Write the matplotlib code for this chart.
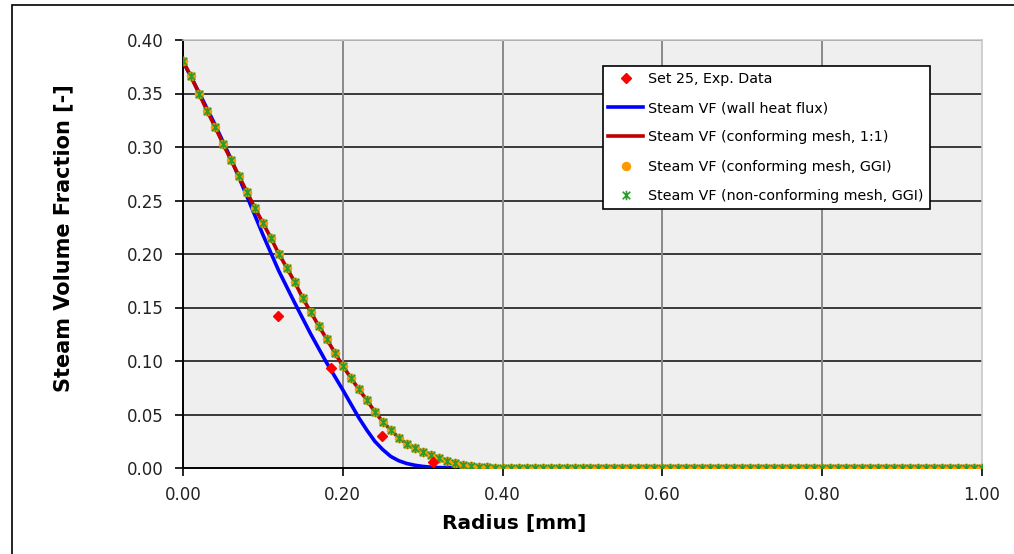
import matplotlib
matplotlib.use("Agg")
import matplotlib.pyplot as plt
from matplotlib.path import Path
from matplotlib.patches import Rectangle
import numpy as np

# ---------------- data ----------------
radius_exp = [0.119, 0.185, 0.2495, 0.313]
vf_exp = [0.142, 0.093, 0.030, 0.006]

radius_wall = [0.00, 0.02, 0.04, 0.06, 0.08, 0.10, 0.12, 0.14, 0.16, 0.18, 0.20,
               0.21, 0.22, 0.23, 0.24, 0.25, 0.26, 0.27, 0.28, 0.29, 0.30, 0.31,
               0.32, 0.34, 0.36, 0.40, 1.00]
vf_wall = [0.380, 0.351, 0.321, 0.289, 0.254, 0.218, 0.184, 0.154, 0.125, 0.098, 0.073,
           0.060, 0.047, 0.0355, 0.025, 0.0172, 0.0108, 0.0068, 0.0042, 0.0026, 0.0015, 0.0008,
           0.0004, 0.0001, 0.0, 0.0, 0.0]

radius_mesh = [0.00, 0.01, 0.02, 0.03, 0.04, 0.05, 0.06, 0.07, 0.08, 0.09,
               0.10, 0.11, 0.12, 0.13, 0.14, 0.15, 0.16, 0.17, 0.18, 0.19,
               0.20, 0.21, 0.22, 0.23, 0.24, 0.25, 0.26, 0.27, 0.28, 0.29,
               0.30, 0.31, 0.32, 0.33, 0.34, 0.35, 0.36, 0.37, 0.38, 0.39,
               0.40, 0.41, 0.42, 0.43, 0.44, 0.45, 0.46, 0.47, 0.48, 0.49,
               0.50, 0.51, 0.52, 0.53, 0.54, 0.55, 0.56, 0.57, 0.58, 0.59,
               0.60, 0.61, 0.62, 0.63, 0.64, 0.65, 0.66, 0.67, 0.68, 0.69,
               0.70, 0.71, 0.72, 0.73, 0.74, 0.75, 0.76, 0.77, 0.78, 0.79,
               0.80, 0.81, 0.82, 0.83, 0.84, 0.85, 0.86, 0.87, 0.88, 0.89,
               0.90, 0.91, 0.92, 0.93, 0.94, 0.95, 0.96, 0.97, 0.98, 0.99, 1.00]
vf_conf_11 = [0.380, 0.366, 0.350, 0.334, 0.319, 0.303, 0.288, 0.273, 0.258, 0.243,
              0.229, 0.215, 0.200, 0.187, 0.1735, 0.1586, 0.1455, 0.1327, 0.1203, 0.1078,
              0.0953, 0.0844, 0.0735, 0.0636, 0.0526, 0.0433, 0.0355, 0.0283, 0.0224, 0.0184,
              0.0152, 0.0120, 0.0090, 0.0065, 0.0044, 0.0028, 0.0019, 0.0012, 0.0007, 0.0004,
              0.0002, 0.0, 0.0, 0.0, 0.0, 0.0, 0.0, 0.0, 0.0, 0.0,
              0.0, 0.0, 0.0, 0.0, 0.0, 0.0, 0.0, 0.0, 0.0, 0.0,
              0.0, 0.0, 0.0, 0.0, 0.0, 0.0, 0.0, 0.0, 0.0, 0.0,
              0.0, 0.0, 0.0, 0.0, 0.0, 0.0, 0.0, 0.0, 0.0, 0.0,
              0.0, 0.0, 0.0, 0.0, 0.0, 0.0, 0.0, 0.0, 0.0, 0.0,
              0.0, 0.0, 0.0, 0.0, 0.0, 0.0, 0.0, 0.0, 0.0, 0.0, 0.0]
vf_conf_ggi = list(vf_conf_11)
vf_nonconf_ggi = list(vf_conf_11)

labels = ["Set 25, Exp. Data",
          "Steam VF (wall heat flux)",
          "Steam VF (conforming mesh, 1:1)",
          "Steam VF (conforming mesh, GGI)",
          "Steam VF (non-conforming mesh, GGI)"]

x_ticks = [0.0, 0.2, 0.4, 0.6, 0.8, 1.0]
y_ticks = [0.00, 0.05, 0.10, 0.15, 0.20, 0.25, 0.30, 0.35, 0.40]

# ---------------- figure ----------------
W, H = 1014, 554
fig = plt.figure(figsize=(W / 100, H / 100), dpi=100)
fig.patch.set_facecolor("white")

# outer chart frame (left/top visible)
fig.add_artist(Rectangle((12 / W, -0.1), 1.2, 1.1 - 5 / H,
                         transform=fig.transFigure, fill=False,
                         edgecolor="black", linewidth=1.2))

ax = fig.add_axes([183 / W, 1 - 468 / H, (982 - 183) / W, (468 - 40) / H])
ax.set_facecolor("#EFEFEF")
ax.set_xlim(0, 1.0)
ax.set_ylim(0, 0.40)

# gridlines
for yv in y_ticks[1:]:
    ax.axhline(yv, color="#3A3A3A", linewidth=1.4, zorder=1)
for xv in x_ticks[1:-1]:
    ax.axvline(xv, color="#8A8A8A", linewidth=1.4, zorder=1)

star = Path([(-1, -1), (1, 1), (-1, 1), (1, -1), (0, -1.25), (0, 1.25)],
            [Path.MOVETO, Path.LINETO, Path.MOVETO, Path.LINETO, Path.MOVETO, Path.LINETO])

h_exp, = ax.plot(radius_exp, vf_exp, linestyle="none", marker="D", ms=5.5,
                 color="#FF0000", zorder=6)
h_wall, = ax.plot(radius_wall, vf_wall, color="#0000FF", linewidth=2.6, zorder=3,
                  solid_joinstyle="round")
h_conf, = ax.plot(radius_mesh, vf_conf_11, color="#C00000", linewidth=2.6, zorder=4)
h_ggi, = ax.plot(radius_mesh, vf_conf_ggi, linestyle="none", marker="o", ms=6.8,
                 color="#FF9900", markeredgewidth=0, zorder=5)
h_nc, = ax.plot(radius_mesh, vf_nonconf_ggi, linestyle="none", marker=star, ms=6.8,
                color="#2E9A2E", markeredgewidth=1.2, markerfacecolor="none", zorder=5.5)

ax.set_xticks(x_ticks)
ax.set_yticks(y_ticks)
ax.set_xticklabels([f"{v:.2f}" for v in x_ticks])
ax.set_yticklabels([f"{v:.2f}" for v in y_ticks])
ax.tick_params(axis="both", direction="out", length=6, width=1.2, color="black",
               labelsize=12, labelcolor="#222222")
ax.tick_params(axis="x", pad=7)
ax.tick_params(axis="y", pad=8)

for s in ["left", "bottom"]:
    ax.spines[s].set_color("black")
    ax.spines[s].set_linewidth(1.4)
for s in ["top", "right"]:
    ax.spines[s].set_color("#C8C8C8")
    ax.spines[s].set_linewidth(1.2)

fig.text(514 / W, 1 - 524 / H, "Radius [mm]", ha="center", va="center",
         fontsize=14.5, fontweight="bold")
fig.text(63 / W, 1 - 238 / H, "Steam Volume Fraction [-]", ha="center", va="center",
         rotation=90, fontsize=15, fontweight="bold")

leg = ax.legend([h_exp, h_wall, h_conf, h_ggi, h_nc], labels,
                loc="upper left",
                bbox_to_anchor=((602.7 - 183) / 799, (468 - 66) / 428),
                fontsize=10.3, frameon=True, fancybox=False, shadow=False,
                framealpha=1, edgecolor="black", facecolor="white",
                numpoints=1, handlelength=2.45, handletextpad=0.35,
                borderpad=0.4, labelspacing=1.07, borderaxespad=0)
leg.get_frame().set_linewidth(1.2)
leg.set_zorder(10)

fig.savefig("out.png", dpi=100)
